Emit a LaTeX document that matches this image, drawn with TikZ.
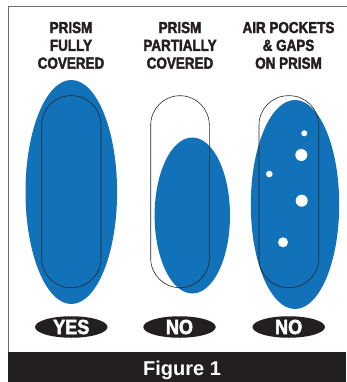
\documentclass[tikz,border=0pt]{standalone}
\usepackage{fontspec}
\usetikzlibrary{shapes.geometric}
\newfontfamily\condfont{Liberation Sans}[FakeStretch=0.84,BoldFeatures={FakeBold=2.2}]
\newfontfamily\verdfont{Liberation Sans}[FakeStretch=0.88,BoldFeatures={FakeBold=2.4}]
\newfontfamily\figfont{Liberation Sans}
\definecolor{prismblue}{HTML}{1172BA}
\definecolor{barblack}{HTML}{231F20}
\definecolor{framegray}{HTML}{6E6E6E}
\tikzset{
  gel/.style={fill=prismblue},
  capsule/.style={draw=black!85,line width=0.6pt,rounded corners=29.3pt},
  bubble/.style={fill=white},
  heading/.style={anchor=north,inner sep=0pt,align=center,text=barblack,
    font=\condfont\bfseries\fontsize{16}{17.8}\selectfont},
  verdict/.style={ellipse,fill=barblack,text=white,inner sep=0pt,
    minimum width=72.5pt,minimum height=21.5pt,
    font=\verdfont\bfseries\fontsize{20.5}{20.5}\selectfont},
}
\begin{document}
\begin{tikzpicture}[x=1pt,y=-1pt]
\useasboundingbox (0,0) rectangle (346,382);
% frame
\draw[framegray,line width=1pt] (8,352) -- (8,7) -- (347,7);
\fill[barblack] (7.5,351.5) rectangle (346,382);
% headings
\node[heading] (h1) at (71,21.7) {PRISM\\FULLY\\COVERED};
\node[heading] (h2) at (180,21.7) {PRISM\\PARTIALLY\\COVERED};
\node[heading] (h3) at (288.5,21.7) {AIR POCKETS\\\& GAPS\\ON PRISM};
% column 1
\fill[gel] (71.3,192) ellipse [x radius=45.8,y radius=112];
\draw[capsule] (41.7,95.7) rectangle (101,287.7);
% column 2
\fill[gel] (192.3,215.5) ellipse [x radius=37.7,y radius=78];
\draw[capsule] (150.7,95.7) rectangle (209.3,287.7);
% column 3
\fill[gel] (295,204.5) ellipse [x radius=44.2,y radius=104.5];
\draw[capsule] (259,95.7) rectangle (318.7,287.7);
\fill[bubble] (304.3,133.3) circle [radius=3];
\fill[bubble] (301.3,155) circle [radius=6];
\fill[bubble] (269.3,174) circle [radius=3.3];
\fill[bubble] (301.7,200.7) circle [radius=6];
\fill[bubble] (283,242.3) circle [radius=5];
% verdicts
\node[verdict] (v1) at (71.3,327) {YES};
\node[verdict] (v2) at (179.5,327) {NO};
\node[verdict] (v3) at (288.7,327) {NO};
% caption
\node[anchor=base,inner sep=0pt,text=white,font=\figfont\bfseries\fontsize{20}{20}\selectfont] (cap) at (182,375) {Figure 1};
\end{tikzpicture}
\end{document}
